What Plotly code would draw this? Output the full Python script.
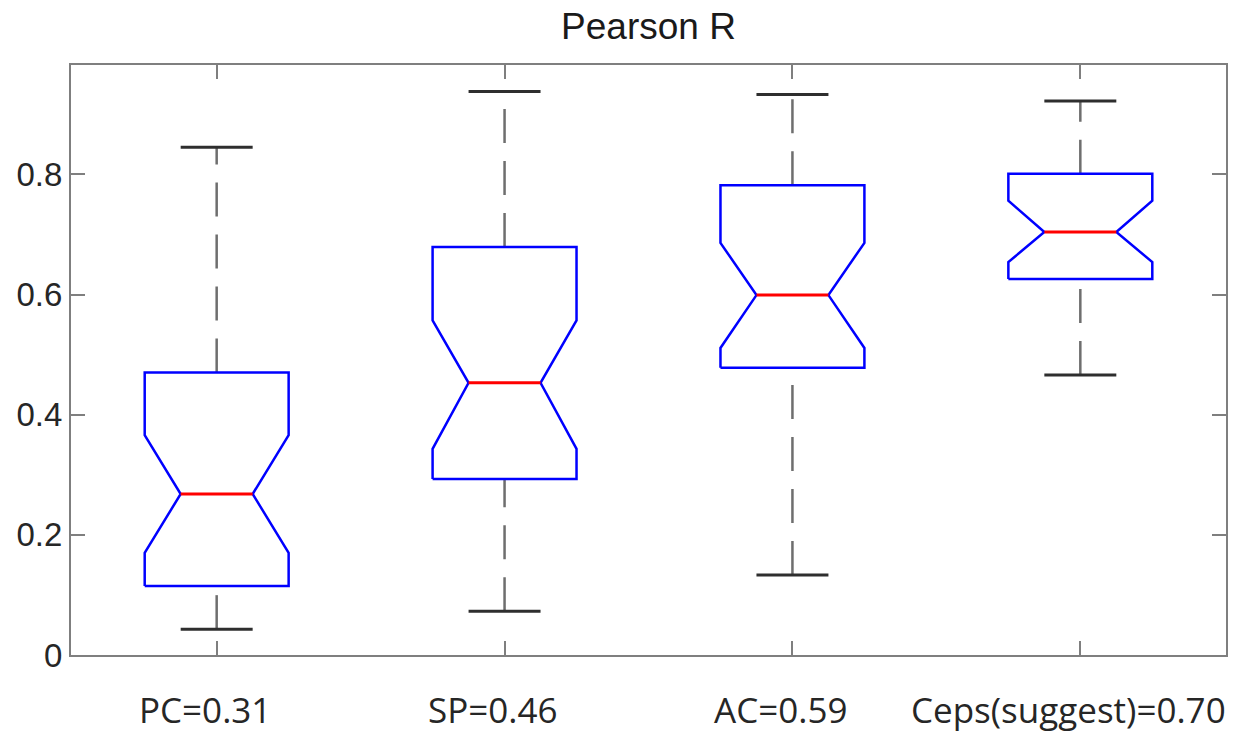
import plotly.graph_objects as go

# Pearson R distributions per method (notched box summaries)
labels = ["PC=0.31", "SP=0.46", "AC=0.59", "Ceps(suggest)=0.70"]
whisker_low = [0.043, 0.073, 0.133, 0.466]
q1 = [0.115, 0.293, 0.478, 0.626]
notch_lo = [0.170, 0.343, 0.511, 0.654]
median = [0.268, 0.453, 0.599, 0.704]
notch_hi = [0.366, 0.557, 0.686, 0.756]
q3 = [0.470, 0.679, 0.782, 0.801]
whisker_high = [0.845, 0.938, 0.933, 0.922]

y_ticks = [0, 0.2, 0.4, 0.6, 0.8]
y_tick_text = ["0", "0.2", "0.4", "0.6", "0.8"]

positions = list(range(1, len(labels) + 1))
BOX_HALF = 0.25
NOTCH_HALF = 0.125
CAP_HALF = 0.125

AXIS_GRAY = "#7f7f7f"
TEXT_DARK = "#262626"

box_x, box_y = [], []
med_x, med_y = [], []
wh_x, wh_y = [], []
cap_x, cap_y = [], []
for i, p in enumerate(positions):
    xl, xr = p - BOX_HALF, p + BOX_HALF
    nl, nr = p - NOTCH_HALF, p + NOTCH_HALF
    box_x += [xl, xl, nl, xl, xl, xr, xr, nr, xr, xr, xl, None]
    box_y += [q1[i], notch_lo[i], median[i], notch_hi[i], q3[i], q3[i],
              notch_hi[i], median[i], notch_lo[i], q1[i], q1[i], None]
    med_x += [nl, nr, None]
    med_y += [median[i], median[i], None]
    # whiskers drawn bottom-to-top so the dash pattern starts at the lower end
    wh_x += [p, p, None, p, p, None]
    wh_y += [whisker_low[i], q1[i], None, q3[i], whisker_high[i], None]
    cap_x += [p - CAP_HALF, p + CAP_HALF, None, p - CAP_HALF, p + CAP_HALF, None]
    cap_y += [whisker_low[i], whisker_low[i], None, whisker_high[i], whisker_high[i], None]

fig = go.Figure()
fig.add_trace(go.Scatter(x=wh_x, y=wh_y, mode="lines", hoverinfo="skip",
                         line=dict(color="#6e6e6e", width=2.5, dash="34px,18px")))
fig.add_trace(go.Scatter(x=cap_x, y=cap_y, mode="lines", hoverinfo="skip",
                         line=dict(color="#2e2e2e", width=3)))
fig.add_trace(go.Scatter(x=box_x, y=box_y, mode="lines", hoverinfo="skip",
                         line=dict(color="#0000ff", width=2.5)))
fig.add_trace(go.Scatter(x=med_x, y=med_y, mode="lines", hoverinfo="skip",
                         line=dict(color="#ff0000", width=3)))

for p, lab in zip(positions, labels):
    fig.add_annotation(x=p, y=0, xref="x", yref="paper", yanchor="middle",
                       yshift=-54, xshift=-12, showarrow=False, text=lab,
                       borderpad=0,
                       font=dict(family="Open Sans", size=35, color=TEXT_DARK))

axis_style = dict(showline=True, linecolor=AXIS_GRAY, linewidth=2, mirror="ticks",
                  ticks="inside", ticklen=14, tickwidth=2, tickcolor=AXIS_GRAY,
                  showgrid=False, zeroline=False)

fig.update_xaxes(range=[0.494, 4.506], tickvals=positions, showticklabels=False,
                 **axis_style)
fig.update_yaxes(range=[0, 0.982], tickvals=y_ticks, ticktext=y_tick_text,
                 tickfont=dict(family="Liberation Sans", size=33, color=TEXT_DARK),
                 **axis_style)

fig.update_layout(
    width=1236, height=734,
    margin=dict(l=71, r=8, t=65, b=79),
    paper_bgcolor="white", plot_bgcolor="white",
    showlegend=False,
    title=dict(text="Pearson R", x=0.5, xref="paper", xanchor="center",
               y=1 - 26 / 734, yanchor="middle",
               font=dict(family="Liberation Sans", size=37, color="#1a1a1a")),
)

fig.write_html("out.html")
